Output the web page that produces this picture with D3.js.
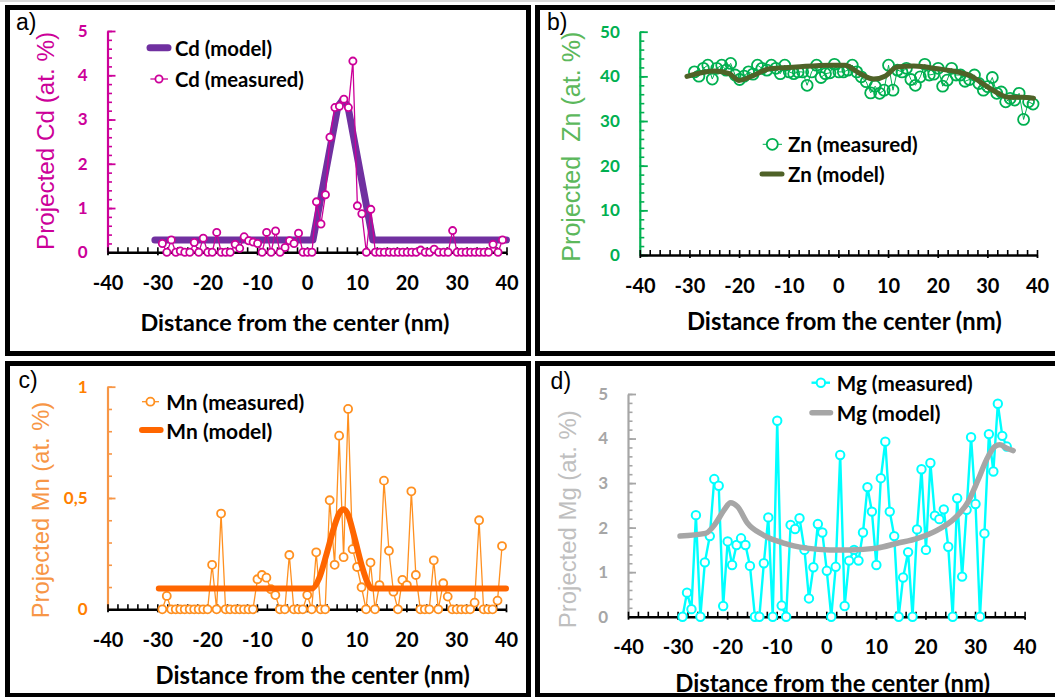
<!DOCTYPE html>
<html><head><meta charset="utf-8">
<script src="https://cdn.jsdelivr.net/npm/d3@7"></script>
<style>
html,body{margin:0;padding:0;background:#fff;}
svg{display:block;}
</style></head><body>
<svg id="chart" width="1055" height="697"></svg>
<script>
// ---------- DATA ----------
const distance = [
  -29.0, -28.1, -27.2, -26.3, -25.4, -24.5, -23.5, -22.6, -21.7, -20.8,
  -19.9, -19.0, -18.1, -17.2, -16.3, -15.4, -14.4, -13.5, -12.6, -11.7,
  -10.8, -9.9, -9.0, -8.1, -7.2, -6.3, -5.4, -4.4, -3.5, -2.6,
  -1.7, -0.8, 0.1, 1.0, 1.9, 2.8, 3.7, 4.6, 5.6, 6.5,
  7.4, 8.3, 9.2, 10.1, 11.0, 11.9, 12.8, 13.7, 14.6, 15.5,
  16.5, 17.4, 18.3, 19.2, 20.1, 21.0, 21.9, 22.8, 23.7, 24.6,
  25.5, 26.4, 27.4, 28.3, 29.2, 30.1, 31.0, 31.9, 32.8, 33.7,
  34.6, 35.5, 36.4, 37.3, 38.3, 39.2
];
const cdMeasured = [
  0.20, 0, 0.28, 0, 0.03, 0, 0, 0.22, 0, 0.32,
  0, 0, 0.45, 0, 0, 0, 0.18, 0.09, 0.35, 0.26,
  0.23, 0.20, 0, 0.45, 0, 0.48, 0, 0.11, 0.26, 0.20,
  0.43, 0, 0, 0, 1.14, 0.64, 1.30, 2.60, 3.27, 3.30,
  3.46, 3.27, 4.32, 1.05, 0.87, 0, 0.97, 0, 0, 0,
  0, 0, 0, 0, 0, 0, 0, 0.05, 0, 0,
  0.07, 0, 0, 0, 0.49, 0, 0, 0, 0, 0,
  0, 0, 0, 0.18, 0, 0.28
];
const cdModelX = [-30.5, 1.2, 6.2, 7.2, 8.2, 13.2, 40];
const cdModelY = [0.28, 0.28, 3.30, 3.45, 3.30, 0.28, 0.28];

const znMeasured = [
  41.0, 40.05, 41.8, 42.5, 39.4, 41.8, 42.5, 41.4, 42.9, 40.3,
  39.3, 40.05, 41.0, 40.5, 42.5, 41.8, 41.4, 42.5, 41.8, 40.6,
  42.5, 41.0, 40.6, 41.0, 41.0, 38.0, 41.0, 42.5, 39.75, 40.6,
  40.8, 42.7, 41.0, 41.0, 41.4, 42.5, 41.0, 39.9, 38.8, 36.3,
  37.8, 36.2, 36.9, 42.5, 36.9, 41.4, 41.0, 41.8, 39.3, 38.0,
  39.9, 42.7, 40.3, 40.5, 41.8, 37.8, 39.15, 41.8, 40.3, 40.3,
  38.9, 39.3, 40.3, 38.4, 36.9, 37.7, 39.75, 36.2, 36.5, 34.3,
  35.05, 34.7, 36.2, 30.35, 34.3, 33.8
];
const znModelX = [-30.5, -24.8, -22.0, -20.0, -17.3, -13.9, -8.5, -1.7, 1.3, 4.4, 7.1, 9.5, 11.8, 15.2, 20.0, 24.0, 26.7, 29.4, 32.2, 34.2, 36.9, 39.3];
const znModelY = [40.0, 41.2, 40.6, 39.1, 40.1, 41.7, 42.1, 42.5, 42.5, 40.6, 39.4, 40.1, 42.1, 42.3, 41.7, 41.0, 40.1, 38.1, 36.2, 35.3, 35.3, 35.1];

const mnMeasured = [
  0, 0.06, 0, 0, 0, 0, 0, 0, 0, 0,
  0, 0.20, 0, 0.43, 0, 0, 0, 0, 0, 0,
  0, 0.135, 0.154, 0.142, 0.09, 0.064, 0, 0, 0.244, 0,
  0, 0, 0.064, 0, 0.256, 0, 0, 0.49, 0.20, 0.78,
  0.234, 0.90, 0.27, 0.19, 0.099, 0, 0.21, 0, 0.109, 0.578,
  0.263, 0.079, 0, 0.132, 0.109, 0.53, 0.154, 0, 0, 0,
  0.22, 0, 0.117, 0.057, 0, 0, 0, 0, 0, 0.03,
  0.40, 0, 0, 0, 0.039, 0.284
];
const mnModelX = [-29.7, 1.1, 2.5, 4.0, 5.5, 6.5, 7.3, 8.2, 9.5, 11.0, 12.2, 13.0, 40];
const mnModelY = [0.094, 0.094, 0.14, 0.25, 0.37, 0.43, 0.449, 0.43, 0.33, 0.20, 0.12, 0.094, 0.094];

const mgMeasured = [
  0, 0.54, 0.17, 2.28, 0, 1.22, 1.81, 3.09, 2.94, 0.24,
  1.69, 1.16, 1.61, 1.76, 1.61, 1.14, 0, 0, 1.20, 2.23,
  0, 4.40, 0.25, 0, 2.06, 1.97, 2.21, 1.50, 0.41, 1.11,
  2.08, 1.89, 1.03, 0, 1.12, 3.63, 0.24, 1.26, 1.50, 1.26,
  1.89, 2.91, 2.36, 1.16, 3.11, 3.93, 2.36, 1.81, 0, 0.88,
  1.45, 0, 1.96, 3.31, 1.50, 3.45, 2.27, 2.19, 2.41, 1.57,
  0, 2.66, 0.90, 2.40, 4.03, 2.53, 0, 1.87, 4.10, 3.26,
  4.78, 4.06, 3.82
];
const mgModelX = [-29.5, -24.4, -22.3, -20.6, -19.3, -17.9, -15.9, -12.8, -8.8, -4.0, 0.7, 4.8, 10.2, 14.3, 18.4, 22.5, 25.9, 28.6, 30.6, 32.3, 34.0, 35.0, 36.4, 37.7];
const mgModelY = [1.81, 1.87, 2.10, 2.40, 2.56, 2.47, 2.10, 1.84, 1.66, 1.54, 1.50, 1.50, 1.54, 1.65, 1.76, 1.95, 2.21, 2.58, 3.07, 3.52, 3.82, 3.86, 3.78, 3.73];

const xTicks = [-40, -30, -20, -10, 0, 10, 20, 30, 40];
const xTickLabels = ["-40", "-30", "-20", "-10", "0", "10", "20", "30", "40"];
const cdTicks = [0, 1, 2, 3, 4, 5];
const znTicks = [0, 10, 20, 30, 40, 50];
const mnTicks = [0, 0.5, 1];
const mnTickLabels = ["0", "0,5", "1"];
const mgTicks = [0, 1, 2, 3, 4, 5];

// ---------- DRAWING ----------
const svg = d3.select('#chart');
const NUM_FONT = "Lato, 'Open Sans', 'DejaVu Sans', sans-serif";
const TITLE_FONT = "'Liberation Sans', Arial, sans-serif";

svg.append('rect').attr('x', 0).attr('y', 0).attr('width', 1055).attr('height', 2).attr('fill', '#d9d9d9');

function fitText(sel, width) {
  const fs = parseFloat(sel.attr('font-size'));
  const w = sel.node().getComputedTextLength();
  if (w > 0) sel.attr('font-size', fs * width / w);
}

function pts(xs, ys) { return xs.map((d, i) => [d, ys[i]]); }

function drawPanel(p) {
  const g = svg.append('g');
  const x = d3.scaleLinear().domain([-40, 40]).range([p.xl, p.xr]);
  const y = d3.scaleLinear().domain([0, p.ymax]).range([p.y0, p.ytop]);

  // y axis minor ticks
  g.append('g').attr('transform', `translate(${p.xl},0)`)
    .call(d3.axisLeft(y).tickValues(p.yMinor).tickSize(-4.5).tickFormat(''))
    .call(s => { s.select('.domain').remove(); s.selectAll('line').attr('stroke', p.axisColor).attr('stroke-width', 1.6); });
  // y axis major
  g.append('g').attr('transform', `translate(${p.xl},0)`)
    .call(d3.axisLeft(y).tickValues(p.yTicks).tickSizeInner(-8).tickSizeOuter(0).tickPadding(20)
      .tickFormat(p.yFmt || (d => String(d))))
    .call(s => {
      s.select('.domain').attr('stroke', p.axisColor).attr('stroke-width', 2.2);
      s.selectAll('line').attr('stroke', p.axisColor).attr('stroke-width', 1.8);
      s.selectAll('text').attr('fill', p.labelColor).attr('font-family', NUM_FONT)
        .attr('font-weight', 'bold').attr('font-size', 17);
    });

  // x axis minor ticks (upward)
  g.append('g').attr('transform', `translate(0,${p.y0})`)
    .call(d3.axisBottom(x).tickValues(d3.range(-40, 41, 2)).tickSize(-5).tickFormat(''))
    .call(s => { s.select('.domain').remove(); s.selectAll('line').attr('stroke', '#000').attr('stroke-width', 1.6); });
  // x axis major
  g.append('g').attr('transform', `translate(0,${p.y0})`)
    .call(d3.axisBottom(x).tickValues(xTicks).tickSizeInner(3).tickSizeOuter(0).tickPadding(20.5)
      .tickFormat(d => xTickLabels[xTicks.indexOf(d)]))
    .call(s => {
      s.select('.domain').attr('stroke', '#000').attr('stroke-width', 2.6);
      s.selectAll('line').attr('stroke', '#000').attr('stroke-width', 1.8);
      s.selectAll('text').attr('fill', '#000').attr('font-family', NUM_FONT)
        .attr('font-weight', 'bold').attr('font-size', 20);
    });

  // titles
  const xt = g.append('text').attr('x', p.xTitle[0]).attr('y', p.xTitle[1])
    .attr('text-anchor', 'middle').attr('dominant-baseline', 'central')
    .attr('font-family', NUM_FONT).attr('font-weight', 'bold').attr('font-size', 21)
    .attr('fill', '#000').text('Distance from the center (nm)');
  fitText(xt, p.xTitle[2]);
  const yt = g.append('text')
    .attr('transform', `translate(${p.yTitle[0]},${p.yTitle[1]}) rotate(-90)`)
    .attr('text-anchor', 'middle').attr('dominant-baseline', 'central')
    .attr('font-family', TITLE_FONT).attr('font-size', 24)
    .attr('fill', p.titleColor).attr('xml:space', 'preserve').style('white-space', 'pre')
    .text(p.yTitleText);
  fitText(yt, p.yTitle[2]);

  g.append('text').attr('x', p.tag[0]).attr('y', p.tag[1])
    .attr('font-family', TITLE_FONT).attr('font-size', 23).attr('fill', '#000').text(p.tagText);

  const line = d3.line().x(d => x(d[0])).y(d => y(d[1]));
  const drawModel = () => {
    g.append('path').datum(pts(p.modelX, p.modelY))
      .attr('d', line.curve(p.modelCurve)).attr('fill', 'none')
      .attr('stroke', p.modelColor).attr('stroke-width', p.modelWidth)
      .attr('stroke-linejoin', 'round').attr('stroke-linecap', 'round');
  };
  const drawMeasured = () => {
    const data = pts(p.measX, p.measY);
    g.append('path').datum(data)
      .attr('d', line.curve(d3.curveLinear)).attr('fill', 'none')
      .attr('stroke', p.measColor).attr('stroke-width', p.measLine).attr('stroke-linejoin', 'round');
    g.append('g').selectAll('circle').data(data).join('circle')
      .attr('cx', d => x(d[0])).attr('cy', d => y(d[1])).attr('r', p.r)
      .attr('fill', p.markerFill).attr('stroke', p.measColor).attr('stroke-width', p.markerStroke);
  };
  if (p.modelFirst) { drawModel(); drawMeasured(); } else { drawMeasured(); drawModel(); }

  // legend
  const lg = g.append('g');
  const lm = p.legendModel, ls = p.legendMeas;
  lg.append('line').attr('x1', lm.x1).attr('x2', lm.x2).attr('y1', lm.y).attr('y2', lm.y)
    .attr('stroke', p.modelColor).attr('stroke-width', p.modelWidth).attr('stroke-linecap', 'round');
  const t1 = lg.append('text').attr('x', lm.tx).attr('y', lm.y).attr('dominant-baseline', 'central')
    .attr('font-family', NUM_FONT).attr('font-weight', 'bold').attr('font-size', 18).attr('fill', '#000')
    .text(p.name + ' (model)');
  fitText(t1, lm.w);
  lg.append('line').attr('x1', ls.x1).attr('x2', ls.x2).attr('y1', ls.y).attr('y2', ls.y)
    .attr('stroke', p.measColor).attr('stroke-width', p.measLine);
  lg.append('circle').attr('cx', ls.cx).attr('cy', ls.y).attr('r', p.r)
    .attr('fill', p.markerFill === 'none' ? '#fff' : p.markerFill).attr('stroke', p.measColor).attr('stroke-width', p.markerStroke);
  const t2 = lg.append('text').attr('x', ls.tx).attr('y', ls.y).attr('dominant-baseline', 'central')
    .attr('font-family', NUM_FONT).attr('font-weight', 'bold').attr('font-size', 18).attr('fill', '#000')
    .text(p.name + ' (measured)');
  fitText(t2, ls.w);
}

drawPanel({
  name: 'Cd', tagText: 'a)', tag: [16, 30],
  xl: 107.5, xr: 506.5, y0: 252.3, ytop: 31, ymax: 5,
  yTicks: cdTicks, yMinor: d3.range(0, 5.001, 0.2),
  axisColor: '#CC0099', labelColor: '#CC0099', titleColor: '#CC0099',
  yTitleText: 'Projected Cd (at. %)', yTitle: [45.6, 141, 218],
  xTitle: [295, 321.7, 309],
  modelX: cdModelX, modelY: cdModelY, modelColor: '#7030A0', modelWidth: 7, modelCurve: d3.curveLinear,
  measX: distance, measY: cdMeasured, measColor: '#CC0099', measLine: 1.3, r: 3.6, markerStroke: 1.8, markerFill: '#fff',
  modelFirst: true,
  legendModel: { x1: 150, x2: 168, y: 47.7, tx: 175, w: 97 },
  legendMeas: { x1: 150.4, x2: 168, cx: 159, y: 79, tx: 175, w: 129 }
});

drawPanel({
  name: 'Zn', tagText: 'b)', tag: [547, 30],
  xl: 639.8, xr: 1037, y0: 255, ytop: 31.7, ymax: 50,
  yTicks: znTicks, yMinor: d3.range(0, 50.01, 2),
  axisColor: '#00B050', labelColor: '#00B050', titleColor: '#5CB85C',
  yTitleText: 'Projected  Zn (at. %)', yTitle: [570.8, 146.7, 230],
  xTitle: [844.4, 320, 315],
  modelX: znModelX, modelY: znModelY, modelColor: '#4F6228', modelWidth: 5, modelCurve: d3.curveMonotoneX,
  measX: distance, measY: znMeasured, measColor: '#00B050', measLine: 1, r: 5.5, markerStroke: 1.8, markerFill: 'none',
  modelFirst: false,
  legendModel: { x1: 762, x2: 782, y: 174, tx: 788, w: 96.6 },
  legendMeas: { x1: 762.7, x2: 782, cx: 772.3, y: 144.3, tx: 788, w: 129.6 }
});

drawPanel({
  name: 'Mn', tagText: 'c)', tag: [18.6, 388],
  xl: 107.5, xr: 506, y0: 609.3, ytop: 386.7, ymax: 1,
  yTicks: mnTicks, yMinor: d3.range(0, 1.001, 0.1),
  yFmt: d => mnTickLabels[mnTicks.indexOf(d)],
  axisColor: '#F79646', labelColor: '#FF8000', titleColor: '#F79646',
  yTitleText: 'Projected Mn (at. %)', yTitle: [40.6, 510, 216.6],
  xTitle: [312.7, 675, 314.5],
  modelX: mnModelX, modelY: mnModelY, modelColor: '#FF6600', modelWidth: 6, modelCurve: d3.curveMonotoneX,
  measX: distance, measY: mnMeasured, measColor: '#FF9020', measLine: 1.3, r: 4, markerStroke: 1.8, markerFill: '#fff',
  modelFirst: false,
  legendModel: { x1: 142, x2: 160.6, y: 430, tx: 166.3, w: 106 },
  legendMeas: { x1: 142, x2: 159, cx: 150.4, y: 401.7, tx: 166.3, w: 138 }
});

drawPanel({
  name: 'Mg', tagText: 'd)', tag: [550.6, 389],
  xl: 628, xr: 1024.6, y0: 616.7, ytop: 394, ymax: 5,
  yTicks: mgTicks, yMinor: d3.range(0, 5.001, 0.2),
  axisColor: '#A6A6A6', labelColor: '#A6A6A6', titleColor: '#BFBFBF',
  yTitleText: 'Projected Mg (at. %)', yTitle: [567.4, 519.2, 218],
  xTitle: [832.7, 682, 315],
  modelX: mgModelX, modelY: mgModelY, modelColor: '#A6A6A6', modelWidth: 5.5, modelCurve: d3.curveMonotoneX,
  measX: distance.slice(0, mgMeasured.length), measY: mgMeasured, measColor: '#00FFFF', measLine: 2.4, r: 4.2, markerStroke: 2, markerFill: '#fff',
  modelFirst: false,
  legendModel: { x1: 812, x2: 830.5, y: 412.7, tx: 836.8, w: 103.7 },
  legendMeas: { x1: 811.5, x2: 830, cx: 820.9, y: 382.7, tx: 836.8, w: 136 }
});

// panel frames
const frames = [
  [7.5, 7.5, 528.5, 353.5],
  [537.5, 7.5, 1060, 353.5],
  [7.5, 363.5, 528.5, 695.5],
  [537.5, 363.5, 1060, 695.5]
];
svg.append('g').selectAll('rect').data(frames).join('rect')
  .attr('x', d => d[0]).attr('y', d => d[1])
  .attr('width', d => d[2] - d[0]).attr('height', d => d[3] - d[1])
  .attr('fill', 'none').attr('stroke', '#000').attr('stroke-width', 5);
</script>
</body></html>
